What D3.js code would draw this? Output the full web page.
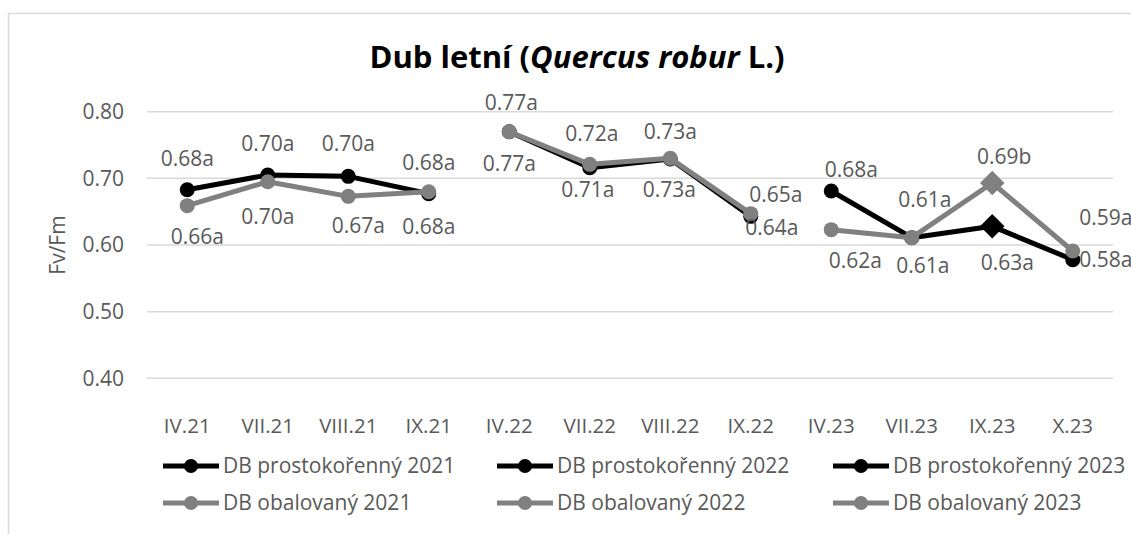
<!DOCTYPE html>
<html lang="cs">
<head>
<meta charset="UTF-8"/>
<title>Dub letní</title>
<script src="https://d3js.org/d3.v7.min.js"></script>
<style>
  body { margin: 0; background: #fff; }
  text { font-family: "Open Sans", "Noto Sans", sans-serif; fill: #595959; }
  .grid line { stroke: #d9d9d9; stroke-width: 1.5px; }
  .title { font-weight: bold; fill: #000; font-size: 31px; }
</style>
</head>
<body>
<div id="chart"></div>
<script>
// categories (months of measurement)
var categories = ["IV.21", "VII.21", "VIII.21", "IX.21", "IV.22", "VII.22", "VIII.22", "IX.22", "IV.23", "VII.23", "IX.23", "X.23"];
var yTicks = [0.40, 0.50, 0.60, 0.70, 0.80];

// Fv/Fm values, each series covers one year
var prosto2021 = [0.683, 0.705, 0.703, 0.677];
var prosto2022 = [0.770, 0.716, 0.729, 0.643];
var prosto2023 = [0.681, 0.611, 0.628, 0.578];
var obal2021 = [0.659, 0.695, 0.673, 0.680];
var obal2022 = [0.770, 0.721, 0.730, 0.647];
var obal2023 = [0.623, 0.611, 0.693, 0.591];

// data label texts (value + significance group)
var lblProsto2021 = ["0.68a", "0.70a", "0.70a", "0.68a"];
var lblProsto2022 = ["0.77a", "0.71a", "0.73a", "0.64a"];
var lblProsto2023 = ["0.68a", "0.61a", "0.63a", "0.58a"];
var lblObal2021 = ["0.66a", "0.70a", "0.67a", "0.68a"];
var lblObal2022 = ["0.77a", "0.72a", "0.73a", "0.65a"];
var lblObal2023 = ["0.62a", "0.61a", "0.69b", "0.59a"];

var diamondAt = ["IX.23"];

var black = "#000000", grey = "#808080";

var series = [
  {name: "DB prostokořenný 2021", cats: categories.slice(0, 4), values: prosto2021, labels: lblProsto2021, color: black,
   off: [[0,-31],[0,-31],[0,-33],[0,-31]]},
  {name: "DB prostokořenný 2022", cats: categories.slice(4, 8), values: prosto2022, labels: lblProsto2022, color: black,
   off: [[0,32],[-2,22],[-1,31],[21,11]]},
  {name: "DB prostokořenný 2023", cats: categories.slice(8, 12), values: prosto2023, labels: lblProsto2023, color: black,
   off: [[20,-21],[11,28],[15,36],[33,0]]},
  {name: "DB obalovaný 2021", cats: categories.slice(0, 4), values: obal2021, labels: lblObal2021, color: grey,
   off: [[10,31],[0,35],[10,29],[0,35]]},
  {name: "DB obalovaný 2022", cats: categories.slice(4, 8), values: obal2022, labels: lblObal2022, color: grey,
   off: [[2,-29],[2,-31],[0,-27],[25,-19]]},
  {name: "DB obalovaný 2023", cats: categories.slice(8, 12), values: obal2023, labels: lblObal2023, color: grey,
   off: [[24,31],[13,-38],[12,-26],[33,-33]]}
];

var width = 1131, height = 534;

var svg = d3.select("#chart").append("svg")
  .attr("width", width)
  .attr("height", height);

// chart area frame
svg.append("rect")
  .attr("x", 8.5).attr("y", 13.5)
  .attr("width", 1200).attr("height", 600)
  .attr("fill", "none")
  .attr("stroke", "#d9d9d9")
  .attr("stroke-width", 1.5);

var x = d3.scaleBand().domain(categories).range([147, 1113]);
var y = d3.scaleLinear().domain([0.4, 0.8]).range([378.3, 111.7]);
function cx(c) { return x(c) + x.bandwidth() / 2; }

// gridlines
svg.append("g").attr("class", "grid")
  .selectAll("line").data(yTicks).enter().append("line")
  .attr("x1", 147).attr("x2", 1113)
  .attr("y1", function(d) { return y(d); })
  .attr("y2", function(d) { return y(d); });

// y axis labels
svg.append("g").selectAll("text").data(yTicks).enter().append("text")
  .attr("x", 124)
  .attr("y", function(d) { return y(d); })
  .attr("dy", "0.35em")
  .attr("text-anchor", "end")
  .style("font-size", "21px")
  .text(d3.format(".2f"));

// x axis labels
svg.append("g").selectAll("text").data(categories).enter().append("text")
  .attr("x", cx)
  .attr("y", 426)
  .attr("dy", "0.35em")
  .attr("text-anchor", "middle")
  .style("font-size", "20.5px")
  .text(function(d) { return d; });

// axis title
svg.append("text")
  .attr("transform", "translate(58,245) rotate(-90)")
  .attr("dy", "0.35em")
  .attr("text-anchor", "middle")
  .style("font-size", "21px")
  .text("Fv/Fm");

// title
var title = svg.append("text").attr("class", "title")
  .attr("x", 577).attr("y", 68)
  .attr("text-anchor", "middle");
title.append("tspan").text("Dub letní (");
title.append("tspan").style("font-style", "italic").text("Quercus robur");
title.append("tspan").text(" L.)");

var line = d3.line()
  .x(function(d) { return cx(d.cat); })
  .y(function(d) { return y(d.value); });

var diamond = d3.symbol().type(d3.symbolSquare).size(300);

series.forEach(function(s) {
  var pts = s.values.map(function(v, i) { return {cat: s.cats[i], value: v, label: s.labels[i], off: s.off[i]}; });
  var g = svg.append("g");
  g.append("path")
    .datum(pts)
    .attr("d", line)
    .attr("fill", "none")
    .attr("stroke", s.color)
    .attr("stroke-width", 5)
    .attr("stroke-linejoin", "round");
  pts.forEach(function(p) {
    if (diamondAt.indexOf(p.cat) >= 0) {
      g.append("path")
        .attr("d", diamond)
        .attr("transform", "translate(" + cx(p.cat) + "," + y(p.value) + ") rotate(45)")
        .attr("fill", s.color);
    } else {
      g.append("circle")
        .attr("cx", cx(p.cat)).attr("cy", y(p.value))
        .attr("r", 7.5)
        .attr("fill", s.color);
    }
  });
  s.pts = pts;
});

// data labels on top
series.forEach(function(s) {
  svg.append("g").selectAll("text").data(s.pts).enter().append("text")
    .attr("x", function(d) { return cx(d.cat) + d.off[0]; })
    .attr("y", function(d) { return y(d.value) + d.off[1]; })
    .attr("dy", "0.35em")
    .attr("text-anchor", "middle")
    .style("font-size", "21px")
    .text(function(d) { return d.label; });
});

// legend
var legX = [163, 497, 833], legY = [466, 503];
series.forEach(function(s, i) {
  var lx = legX[i % 3], ly = legY[Math.floor(i / 3)];
  var lg = svg.append("g").attr("transform", "translate(" + lx + "," + ly + ")");
  lg.append("line").attr("x1", 0).attr("x2", 56).attr("y1", 0).attr("y2", 0)
    .attr("stroke", s.color).attr("stroke-width", 5);
  lg.append("circle").attr("cx", 28).attr("cy", 0).attr("r", 7).attr("fill", s.color);
  lg.append("text").attr("x", 60).attr("y", 0).attr("dy", "0.35em")
    .style("font-size", "21px")
    .text(s.name);
});
</script>
</body>
</html>
